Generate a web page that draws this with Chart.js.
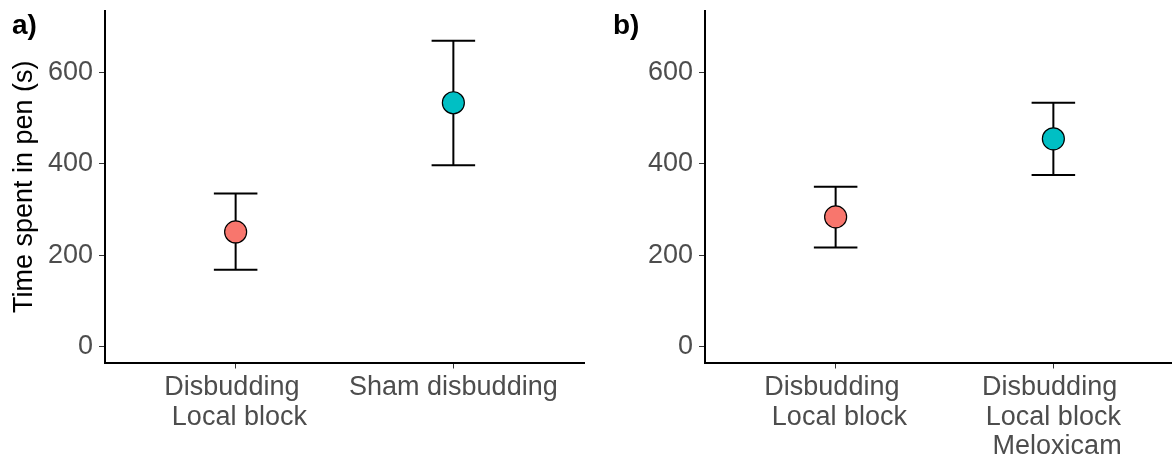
<!DOCTYPE html>
<html>
<head>
<meta charset="utf-8">
<script src="https://cdn.jsdelivr.net/npm/chart.js@4.4.1/dist/chart.umd.min.js"></script>
<style>
  html, body { margin: 0; padding: 0; background: #fff; overflow: hidden; width: 1172px; height: 459px; }
  canvas { position: absolute; top: 0; }
  #chartA { left: 0; }
  #chartB { left: 584px; }
  .panel-tag { position: absolute; z-index: 2; font: bold 28px 'Liberation Sans', Arial, sans-serif; line-height: 28px; color: #000; }
</style>
</head>
<body>
<canvas id="chartA" width="590" height="459"></canvas>
<canvas id="chartB" width="600" height="459"></canvas>
<div class="panel-tag" style="left:12px; top:11px">a)</div>
<div class="panel-tag" style="left:613px; top:11px">b)</div>
<script>
// Data (mean with error bars)
const yTicks = [0, 200, 400, 600];
const yMin = -35;
const yMax = 735;

const labelsA = [['Disbudding ', ' Local block'], ['Sham disbudding']];
const meansA = [251, 534];
const lowerA = [168, 397];
const upperA = [335, 670];

const labelsB = [['Disbudding ', ' Local block'], ['Disbudding ', ' Local block ', ' Meloxicam']];
const meansB = [284, 455];
const lowerB = [217, 376];
const upperB = [350, 534];

const groupColors = ['#F8766D', '#00BFC4'];

Chart.defaults.font.family = "'Liberation Sans', Arial, sans-serif";
Chart.defaults.animation = false;

// Error bars drawn under the points
const errorBars = {
    id: 'errorBars',
    beforeDatasetsDraw(chart, args, opts) {
        const { ctx, scales: { x, y } } = chart;
        ctx.save();
        ctx.strokeStyle = '#000';
        ctx.lineWidth = 2;
        opts.lower.forEach((lo, i) => {
            const hi = opts.upper[i];
            const cx = x.getPixelForValue(i);
            const x0 = x.getPixelForValue(i - opts.capWidth / 2);
            const x1 = x.getPixelForValue(i + opts.capWidth / 2);
            const yLo = y.getPixelForValue(lo);
            const yHi = y.getPixelForValue(hi);
            ctx.beginPath();
            ctx.moveTo(cx, yLo); ctx.lineTo(cx, yHi);
            ctx.moveTo(x0, yLo); ctx.lineTo(x1, yLo);
            ctx.moveTo(x0, yHi); ctx.lineTo(x1, yHi);
            ctx.stroke();
        });
        ctx.restore();
    }
};

function makePanel(canvasId, labels, means, lower, upper, showTitle, yWidth, padRight) {
    const ctx = document.getElementById(canvasId).getContext('2d');
    return new Chart(ctx, {
        type: 'scatter',
        data: {
            datasets: [{
                data: means.map((m, i) => ({ x: i, y: m })),
                pointRadius: 11,
                pointHoverRadius: 11,
                pointBackgroundColor: groupColors,
                pointBorderColor: '#000',
                pointBorderWidth: 1.2
            }]
        },
        options: {
            responsive: false,
            layout: { autoPadding: false, padding: { left: 0, right: padRight, top: 11, bottom: 0 } },
            plugins: {
                legend: { display: false },
                tooltip: { enabled: false },
                errorBars: { lower: lower, upper: upper, capWidth: 0.2 }
            },
            scales: {
                x: {
                    type: 'linear',
                    min: -0.6,
                    max: 1.6,
                    border: { display: true, color: '#000', width: 2 },
                    grid: { display: true, drawOnChartArea: false, drawTicks: true, tickLength: 6, color: '#333', lineWidth: 1 },
                    afterBuildTicks: s => { s.ticks = labels.map((_, i) => ({ value: i })); },
                    afterFit: s => { s.height = 96.5; s.paddingLeft = 0; s.paddingRight = 0; },
                    ticks: {
                        maxRotation: 0,
                        padding: 4,
                        color: '#4D4D4D',
                        font: { size: 27, lineHeight: 1.1 },
                        callback: v => labels[v]
                    }
                },
                y: {
                    min: yMin,
                    max: yMax,
                    border: { display: true, color: '#000', width: 2 },
                    grid: { display: true, drawOnChartArea: false, drawTicks: true, tickLength: 6, color: '#333', lineWidth: 1 },
                    afterBuildTicks: s => { s.ticks = yTicks.map(v => ({ value: v })); },
                    afterFit: s => { s.width = yWidth; s.paddingTop = 0; s.paddingBottom = 0; },
                    ticks: {
                        padding: 6,
                        color: '#4D4D4D',
                        font: { size: 27 }
                    },
                    title: {
                        display: showTitle,
                        text: 'Time spent in pen (s)',
                        color: '#000',
                        font: { size: 27, lineHeight: 1.2 },
                        padding: { top: 8, bottom: 0 }
                    }
                }
            }
        },
        plugins: [errorBars]
    });
}

makePanel('chartA', labelsA, meansA, lowerA, upperA, true, 105, 6);
makePanel('chartB', labelsB, meansB, lowerB, upperB, false, 121, 0);
</script>
</body>
</html>
